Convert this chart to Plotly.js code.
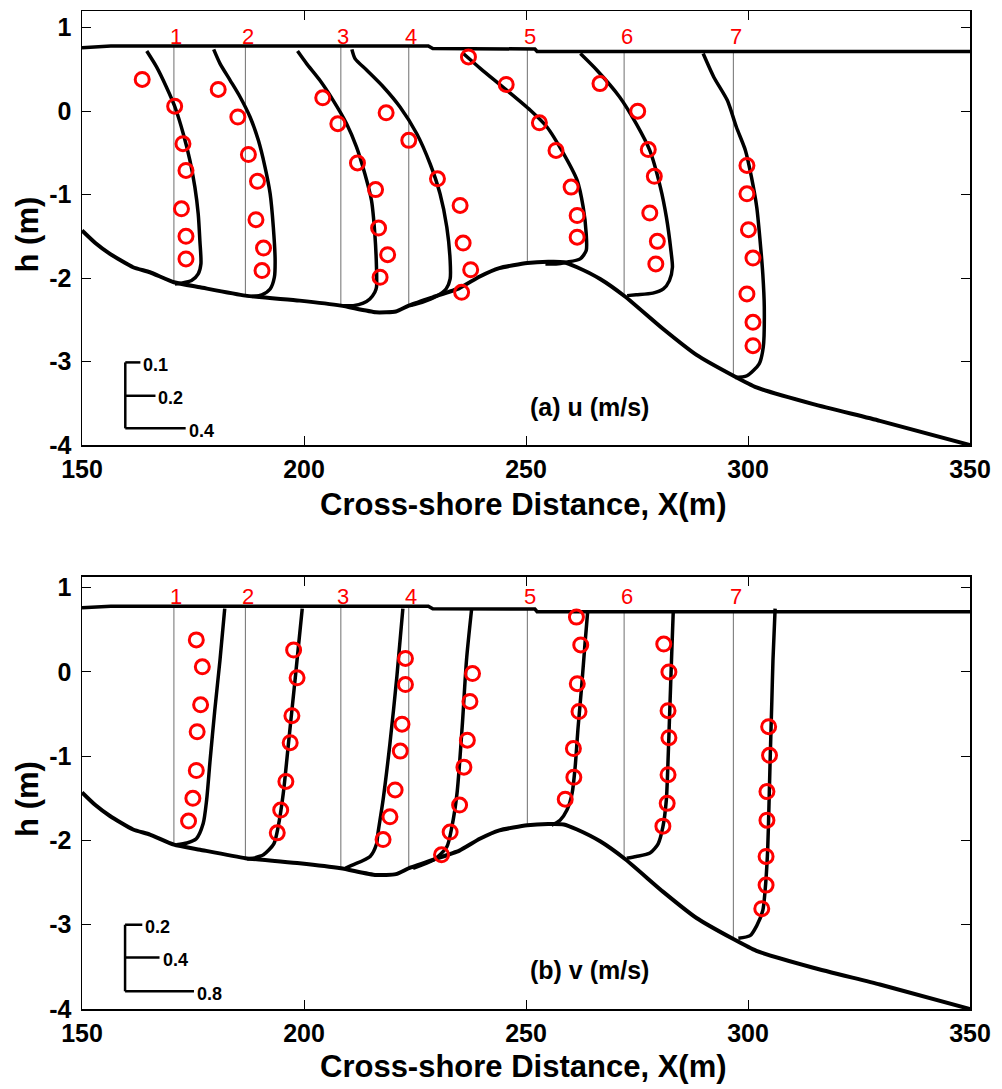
<!DOCTYPE html>
<html><head><meta charset="utf-8">
<script src="https://cdn.plot.ly/plotly-3.0.1.min.js"></script>
<style>html,body{margin:0;padding:0;background:#fff}#chart{width:1002px;height:1089px}</style>
</head><body><div id="chart"></div>
<script>
// ---------------- DATA ----------------
const stationX = [170.7, 186.8, 208.3, 223.6, 250.3, 272.1, 296.7];
const stationLabels = ['1', '2', '3', '4', '5', '6', '7'];

const bedX = [150, 153, 156.3, 161.5, 165.3, 170.7, 176.6, 186.8, 199, 208.3, 216.2, 220.7, 223.6, 229, 235, 239.6, 244, 250.3, 255, 258.5, 261.5, 266.7, 272.3, 280.9, 288.4, 296.7, 301.9, 314.7, 329.7, 350];
const bedH = [-1.43, -1.58, -1.71, -1.87, -1.93, -2.05, -2.11, -2.21, -2.27, -2.33, -2.41, -2.40, -2.33, -2.23, -2.12, -1.98, -1.88, -1.82, -1.805, -1.81, -1.87, -2.01, -2.22, -2.61, -2.92, -3.17, -3.31, -3.51, -3.71, -4.0];

const waterX = [150, 156.5, 228, 229, 252, 252.5, 350];
const waterH = [0.76, 0.78, 0.78, 0.75, 0.745, 0.715, 0.715];

// measurement depths at each station (m)
const obsDepth = [
  [0.38, 0.06, -0.39, -0.71, -1.17, -1.50, -1.77],
  [0.26, -0.07, -0.52, -0.84, -1.30, -1.64, -1.91],
  [0.16, -0.15, -0.62, -0.94, -1.40, -1.72, -1.99],
  [-0.02, -0.35, -0.81, -1.13, -1.58, -1.90, -2.17],
  [0.65, 0.32, -0.14, -0.47, -0.91, -1.25, -1.51],
  [0.33, 0.00, -0.46, -0.78, -1.22, -1.56, -1.83],
  [-0.65, -0.99, -1.42, -1.76, -2.19, -2.53, -2.81]
];
// observed cross-shore velocity u (m/s)
const uObs = [
  [-0.21, 0.005, 0.06, 0.08, 0.05, 0.08, 0.08],
  [-0.18, -0.05, 0.02, 0.08, 0.07, 0.12, 0.11],
  [-0.12, -0.02, 0.11, 0.23, 0.25, 0.31, 0.26],
  [-0.15, 0.00, 0.19, 0.34, 0.36, 0.41, 0.35],
  [-0.39, -0.14, 0.08, 0.19, 0.29, 0.33, 0.33],
  [-0.16, 0.09, 0.16, 0.20, 0.17, 0.22, 0.21],
  [0.09, 0.09, 0.10, 0.13, 0.09, 0.13, 0.13]
];
// observed alongshore velocity v (m/s)
const vObs = [
  [0.26, 0.33, 0.31, 0.27, 0.26, 0.22, 0.17],
  [0.56, 0.60, 0.54, 0.52, 0.47, 0.41, 0.37],
  [0.75, 0.75, 0.71, 0.69, 0.63, 0.57, 0.49],
  [0.74, 0.71, 0.68, 0.64, 0.59, 0.48, 0.38],
  [0.57, 0.62, 0.58, 0.60, 0.535, 0.54, 0.44],
  [0.46, 0.52, 0.51, 0.52, 0.51, 0.50, 0.45],
  [0.41, 0.42, 0.39, 0.39, 0.38, 0.38, 0.33]
];
// modelled u profiles
const uModelDepth = [
  [0.72, 0.53, 0.29, 0.05, -0.27, -0.59, -0.91, -1.23, -1.55, -1.83, -1.95, -2.03, -2.06, -2.07],
  [0.74, 0.57, 0.37, 0.17, -0.07, -0.35, -0.67, -0.99, -1.39, -1.79, -1.99, -2.13, -2.20, -2.22],
  [0.72, 0.57, 0.37, 0.13, -0.15, -0.43, -0.75, -1.07, -1.47, -1.87, -2.11, -2.17, -2.25, -2.30, -2.33, -2.33],
  [0.74, 0.63, 0.49, 0.29, 0.05, -0.27, -0.63, -0.99, -1.39, -1.79, -2.01, -2.13, -2.22, -2.29, -2.33],
  [0.70, 0.51, 0.27, 0.01, -0.19, -0.51, -0.83, -1.15, -1.47, -1.67, -1.77, -1.81, -1.83, -1.83],
  [0.69, 0.49, 0.17, -0.15, -0.47, -0.91, -1.27, -1.67, -1.87, -2.03, -2.13, -2.18, -2.20, -2.21],
  [0.69, 0.41, 0.13, -0.19, -0.47, -0.79, -1.15, -1.55, -1.95, -2.35, -2.83, -3.03, -3.17, -3.19]
];
const uModel = [
  [-0.18, -0.115, -0.05, 0.007, 0.062, 0.106, 0.139, 0.161, 0.172, 0.179, 0.161, 0.117, 0.051, 0.007],
  [-0.21, -0.168, -0.101, -0.035, 0.031, 0.086, 0.130, 0.164, 0.185, 0.197, 0.192, 0.164, 0.109, 0.042],
  [-0.287, -0.227, -0.139, -0.051, 0.038, 0.104, 0.159, 0.203, 0.225, 0.236, 0.236, 0.225, 0.192, 0.148, 0.082, 0.015],
  [-0.377, -0.356, -0.278, -0.168, -0.058, 0.053, 0.141, 0.207, 0.252, 0.274, 0.274, 0.247, 0.181, 0.088, 0.009],
  [-0.43, -0.31, -0.15, 0.02, 0.13, 0.24, 0.33, 0.37, 0.39, 0.39, 0.35, 0.26, 0.19, 0.12],
  [-0.29, -0.18, -0.03, 0.08, 0.17, 0.24, 0.28, 0.31, 0.32, 0.30, 0.26, 0.19, 0.08, 0.02],
  [-0.20, -0.13, -0.04, 0.02, 0.08, 0.12, 0.155, 0.177, 0.195, 0.205, 0.198, 0.17, 0.09, 0.01]
];
// modelled v profiles
const vModelDepth = [
  [0.75, 0.14, -0.45, -1.05, -1.52, -1.80, -1.98, -2.03, -2.05],
  [0.75, -0.06, -0.85, -1.44, -1.84, -2.04, -2.17, -2.21, -2.22],
  [0.75, -0.06, -0.85, -1.52, -1.92, -2.04, -2.19, -2.29, -2.33],
  [0.75, 0.14, -0.65, -1.44, -1.84, -2.08, -2.23, -2.33],
  [0.71, 0.34, -0.18, -0.65, -1.13, -1.44, -1.64, -1.76, -1.82],
  [0.71, 0.14, -0.45, -1.05, -1.52, -1.84, -2.04, -2.15, -2.19, -2.21],
  [0.75, 0.14, -0.34, -1.05, -1.84, -2.19, -2.59, -2.83, -3.01, -3.13, -3.16]
];
const vModel = [
  [0.59, 0.535, 0.475, 0.42, 0.38, 0.34, 0.26, 0.15, 0.03],
  [0.66, 0.58, 0.50, 0.44, 0.38, 0.33, 0.21, 0.09, 0.02],
  [0.72, 0.65, 0.57, 0.49, 0.43, 0.415, 0.34, 0.14, 0.05],
  [0.73, 0.67, 0.62, 0.56, 0.50, 0.44, 0.29, 0.05],
  [0.70, 0.67, 0.63, 0.59, 0.555, 0.52, 0.46, 0.38, 0.28],
  [0.57, 0.55, 0.53, 0.51, 0.49, 0.45, 0.395, 0.30, 0.14, 0.03],
  [0.485, 0.46, 0.447, 0.427, 0.407, 0.395, 0.369, 0.342, 0.272, 0.194, 0.058]
];

const uScaleValues = [0.1, 0.2, 0.4];
const vScaleValues = [0.2, 0.4, 0.8];
const uScaleLabels = ['0.1', '0.2', '0.4'];
const vScaleLabels = ['0.2', '0.4', '0.8'];

const xTickVals = [150, 200, 250, 300, 350];
const yTickVals = [-4, -3, -2, -1, 0, 1];
const yTickText = ['-4', '-3', '-2', '-1', '0', '1'];

const panelLabels = ['(a) u (m/s)', '(b) v (m/s)'];
const xTitleText = 'Cross-shore Distance, X(m)';
const yTitleText = 'h (m)';

// ---------------- DRAWING ----------------
const FONT = 'Liberation Sans, Arial, Helvetica, sans-serif';
const U_SCALE = 34.0;   // metres of X per 1 m/s (panel a)
const V_SCALE = 19.4;   // metres of X per 1 m/s (panel b)

function interp(xs, ys, x) {
  for (let i = 0; i < xs.length - 1; i++) {
    if (x >= xs[i] && x <= xs[i + 1]) {
      const t = (x - xs[i]) / (xs[i + 1] - xs[i]);
      return ys[i] + t * (ys[i + 1] - ys[i]);
    }
  }
  return ys[ys.length - 1];
}

const traces = [];
const annotations = [];

function buildPanel(ax, ay, modelDepth, modelVal, obsVal, scale, scaleVals, scaleLabels, scaleX0, scaleY, panelLabel, labelPos, stationLabelY) {
  const sx = [], sy = [];
  stationX.forEach(x => {
    sx.push(x, x, null);
    sy.push(interp(waterX, waterH, x) - 0.01, interp(bedX, bedH, x), null);
  });
  traces.push({x: sx, y: sy, mode: 'lines', line: {color: '#6f6f6f', width: 1}, xaxis: ax, yaxis: ay, hoverinfo: 'skip'});
  traces.push({x: bedX, y: bedH, mode: 'lines', line: {color: 'black', width: 4, shape: 'spline', smoothing: 0.5}, xaxis: ax, yaxis: ay});
  traces.push({x: waterX, y: waterH, mode: 'lines', line: {color: 'black', width: 3.5}, xaxis: ax, yaxis: ay});
  stationX.forEach((x0, i) => {
    traces.push({x: modelVal[i].map(v => x0 + v * scale), y: modelDepth[i], mode: 'lines',
      line: {color: 'black', width: 3.5, shape: 'spline', smoothing: 0.7}, xaxis: ax, yaxis: ay});
  });
  stationX.forEach((x0, i) => {
    traces.push({x: obsVal[i].map(v => x0 + v * scale), y: obsDepth[i], mode: 'markers',
      marker: {symbol: 'circle-open', size: 14, color: '#ff0000', line: {width: 3, color: '#ff0000'}}, xaxis: ax, yaxis: ay});
  });
  // scale bar
  const bx = [scaleX0, scaleX0, null], by = [scaleY[0], scaleY[scaleY.length - 1], null];
  scaleVals.forEach((v, i) => {
    bx.push(scaleX0, scaleX0 + v * scale, null);
    by.push(scaleY[i], scaleY[i], null);
    annotations.push({x: scaleX0 + v * scale, y: scaleY[i] - 0.03, xref: ax, yref: ay, text: scaleLabels[i],
      showarrow: false, xanchor: 'left', yanchor: 'middle', xshift: 1,
      font: {family: FONT, size: 18, color: 'black', weight: 'bold'}});
  });
  traces.push({x: bx, y: by, mode: 'lines', line: {color: 'black', width: 2.5}, xaxis: ax, yaxis: ay});
  // station labels
  stationX.forEach((x, i) => {
    annotations.push({x: x, y: stationLabelY, xref: ax, yref: ay, text: stationLabels[i], showarrow: false,
      xanchor: 'center', yanchor: 'middle', xshift: 2.5, font: {family: FONT, size: 22, color: '#ff0000'}});
  });
  annotations.push({x: labelPos[0], y: labelPos[1], xref: ax, yref: ay, text: panelLabel, showarrow: false,
    xanchor: 'center', yanchor: 'middle', font: {family: FONT, size: 25, color: 'black', weight: 'bold'}});
}

buildPanel('x', 'y', uModelDepth, uModel, uObs, U_SCALE, uScaleValues, uScaleLabels, 159.75, [-3.01, -3.41, -3.80], panelLabels[0], [264.4, -3.55], 0.89);
buildPanel('x2', 'y2', vModelDepth, vModel, vObs, V_SCALE, vScaleValues, vScaleLabels, 159.7, [-3.00, -3.39, -3.79], panelLabels[1], [264.2, -3.54], 0.90);

// axis titles
const titleFont = {family: FONT, size: 31, color: 'black', weight: 'bold'};
annotations.push({xref: 'paper', yref: 'paper', x: 0.4977, y: 0.506, text: xTitleText, showarrow: false, xanchor: 'center', yanchor: 'middle', font: titleFont});
annotations.push({xref: 'paper', yref: 'paper', x: 0.4977, y: -0.058, text: xTitleText, showarrow: false, xanchor: 'center', yanchor: 'middle', font: titleFont});
annotations.push({xref: 'paper', yref: 'paper', x: -0.0614, y: 0.7766, text: yTitleText, showarrow: false, xanchor: 'center', yanchor: 'middle', textangle: -90, font: titleFont});
annotations.push({xref: 'paper', yref: 'paper', x: -0.0614, y: 0.211, text: yTitleText, showarrow: false, xanchor: 'center', yanchor: 'middle', textangle: -90, font: titleFont});

const tickFont = {family: FONT, size: 25, color: 'black', weight: 'bold'};
const xCommon = {range: [150, 350], tickmode: 'array', tickvals: xTickVals, ticktext: xTickVals.map(String),
  ticks: 'inside', ticklen: 9, tickwidth: 1, tickcolor: 'black', showline: true, linecolor: 'black', linewidth: 1.5,
  mirror: 'ticks', showgrid: false, zeroline: false, tickfont: tickFont, ticklabelstandoff: 1};
const yCommon = {tickmode: 'array', tickvals: yTickVals, ticktext: yTickText,
  ticks: 'inside', ticklen: 9, tickwidth: 1, tickcolor: 'black', showline: true, linecolor: 'black', linewidth: 1.5,
  mirror: 'ticks', showgrid: false, zeroline: false, tickfont: tickFont, ticklabelstandoff: 4};

const layout = {
  width: 1002, height: 1089,
  margin: {l: 82, r: 32, t: 11, b: 80},
  paper_bgcolor: 'white', plot_bgcolor: 'white',
  showlegend: false,
  xaxis: Object.assign({}, xCommon, {domain: [0, 1], anchor: 'y'}),
  yaxis: Object.assign({}, yCommon, {domain: [0.5651, 1], anchor: 'x', range: [-4, 1.2]}),
  xaxis2: Object.assign({}, xCommon, {domain: [0, 1], anchor: 'y2'}),
  yaxis2: Object.assign({}, yCommon, {domain: [0, 0.4332], anchor: 'x2', range: [-4, 1.13]}),
  annotations: annotations
};

Plotly.newPlot('chart', traces, layout, {displayModeBar: false, staticPlot: true});
</script>
</body></html>
